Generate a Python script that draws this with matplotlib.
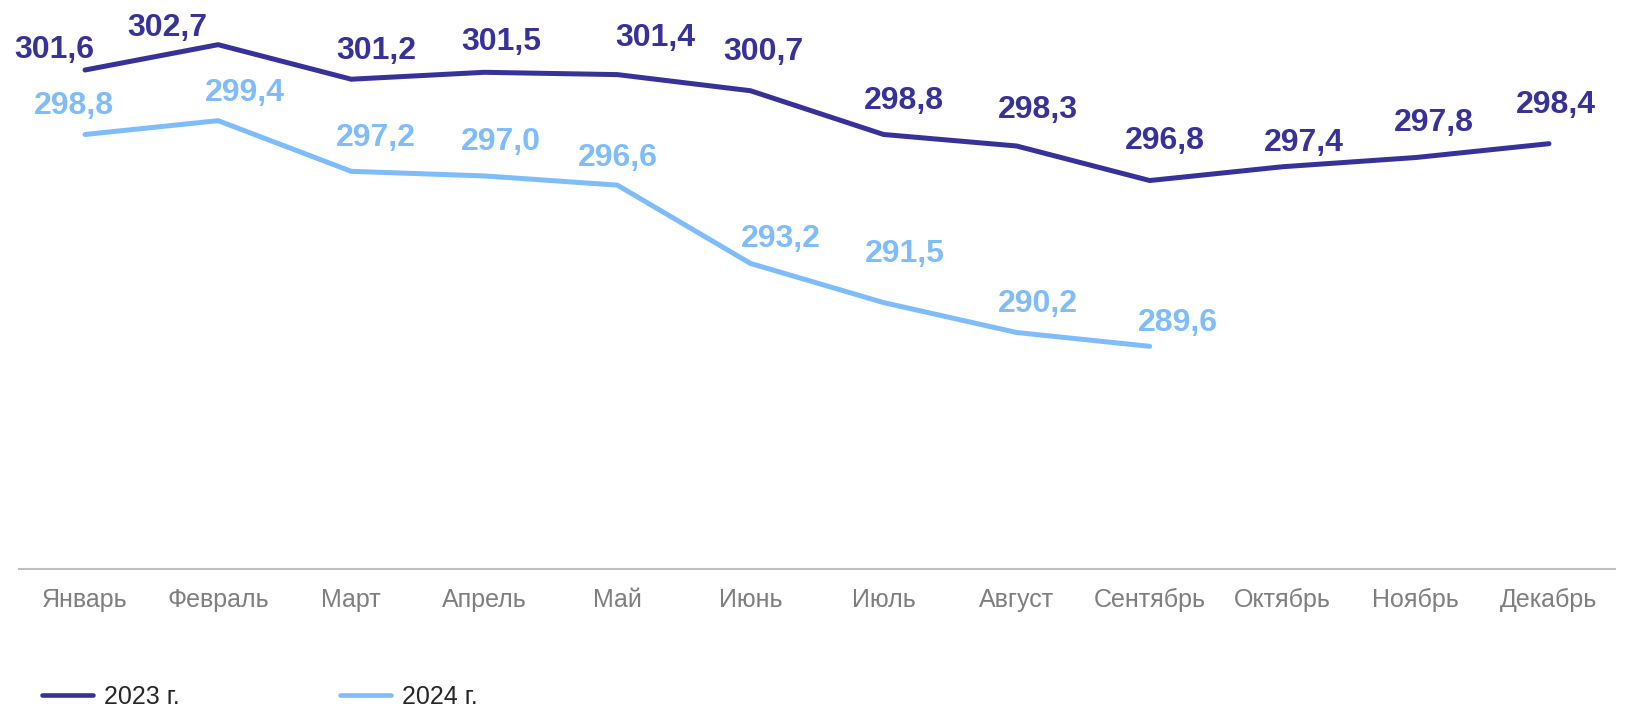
import matplotlib
matplotlib.use("Agg")
import matplotlib.pyplot as plt

months = ["Январь", "Февраль", "Март", "Апрель", "Май", "Июнь", "Июль",
          "Август", "Сентябрь", "Октябрь", "Ноябрь", "Декабрь"]
values_2023 = [301.6, 302.7, 301.2, 301.5, 301.4, 300.7, 298.8, 298.3, 296.8, 297.4, 297.8, 298.4]
values_2024 = [298.8, 299.4, 297.2, 297.0, 296.6, 293.2, 291.5, 290.2, 289.6]
series_names = ["2023 г.", "2024 г."]

# label offsets (pixels) relative to data point: (dx, dy)
off_2023 = [(-31, 20), (-51, 17), (25, 28), (17, 30), (38, 37), (13, 39),
            (20, 33), (21, 36), (15, 40), (21, 24), (18, 35), (7, 39)]
off_2024 = [(-11, 28), (27, 28), (25, 33), (17, 34), (0, 27), (30, 24),
            (21, 49), (21, 29), (28, 23)]

c23 = "#37319A"
c24 = "#7FBCFA"

plt.rcParams['font.family'] = ['Liberation Sans', 'DejaVu Sans']

fig = plt.figure(figsize=(16.27, 7.07), dpi=100)
ax = fig.add_axes([18.5 / 1627, 1 - 569 / 707, 1597 / 1627, 569 / 707])
ax.set_xlim(-0.5, 11.5)
ax.set_ylim(279.93, 304.64)

x23 = list(range(len(values_2023)))
x24 = list(range(len(values_2024)))
l1, = ax.plot(x23, values_2023, color=c23, lw=3.6, solid_capstyle='round', solid_joinstyle='round', label=series_names[0])
l2, = ax.plot(x24, values_2024, color=c24, lw=3.6, solid_capstyle='round', solid_joinstyle='round', label=series_names[1])

def fmt(v):
    return f"{v:.1f}".replace(".", ",")

for xi, v, (dx, dy) in zip(x23, values_2023, off_2023):
    ax.annotate(fmt(v), (xi, v), xytext=(dx, dy), textcoords='offset pixels',
                ha='center', va='center', fontsize=23, fontweight='bold', color=c23)
for xi, v, (dx, dy) in zip(x24, values_2024, off_2024):
    ax.annotate(fmt(v), (xi, v), xytext=(dx, dy), textcoords='offset pixels',
                ha='center', va='center', fontsize=23, fontweight='bold', color=c24)

for s in ["top", "left", "right"]:
    ax.spines[s].set_visible(False)
ax.spines["bottom"].set_color("#BFBFBF")
ax.spines["bottom"].set_linewidth(1.5)
ax.set_yticks([])
ax.set_xticks(range(12))
ax.set_xticklabels(months, fontsize=18, color="#7F7F7F")
ax.tick_params(axis='x', length=0, pad=14)

leg = fig.legend(handles=[l1, l2], loc='center left', bbox_to_anchor=(42 / 1627, 1 - 697 / 707),
           ncol=2, frameon=False, fontsize=18, handlelength=2.04, handletextpad=0.44,
           columnspacing=6.4, borderpad=0, borderaxespad=0, labelcolor="#262626")
for h in leg.legend_handles:
    h.set_linewidth(3.3)

fig.savefig("out.png", dpi=100)
